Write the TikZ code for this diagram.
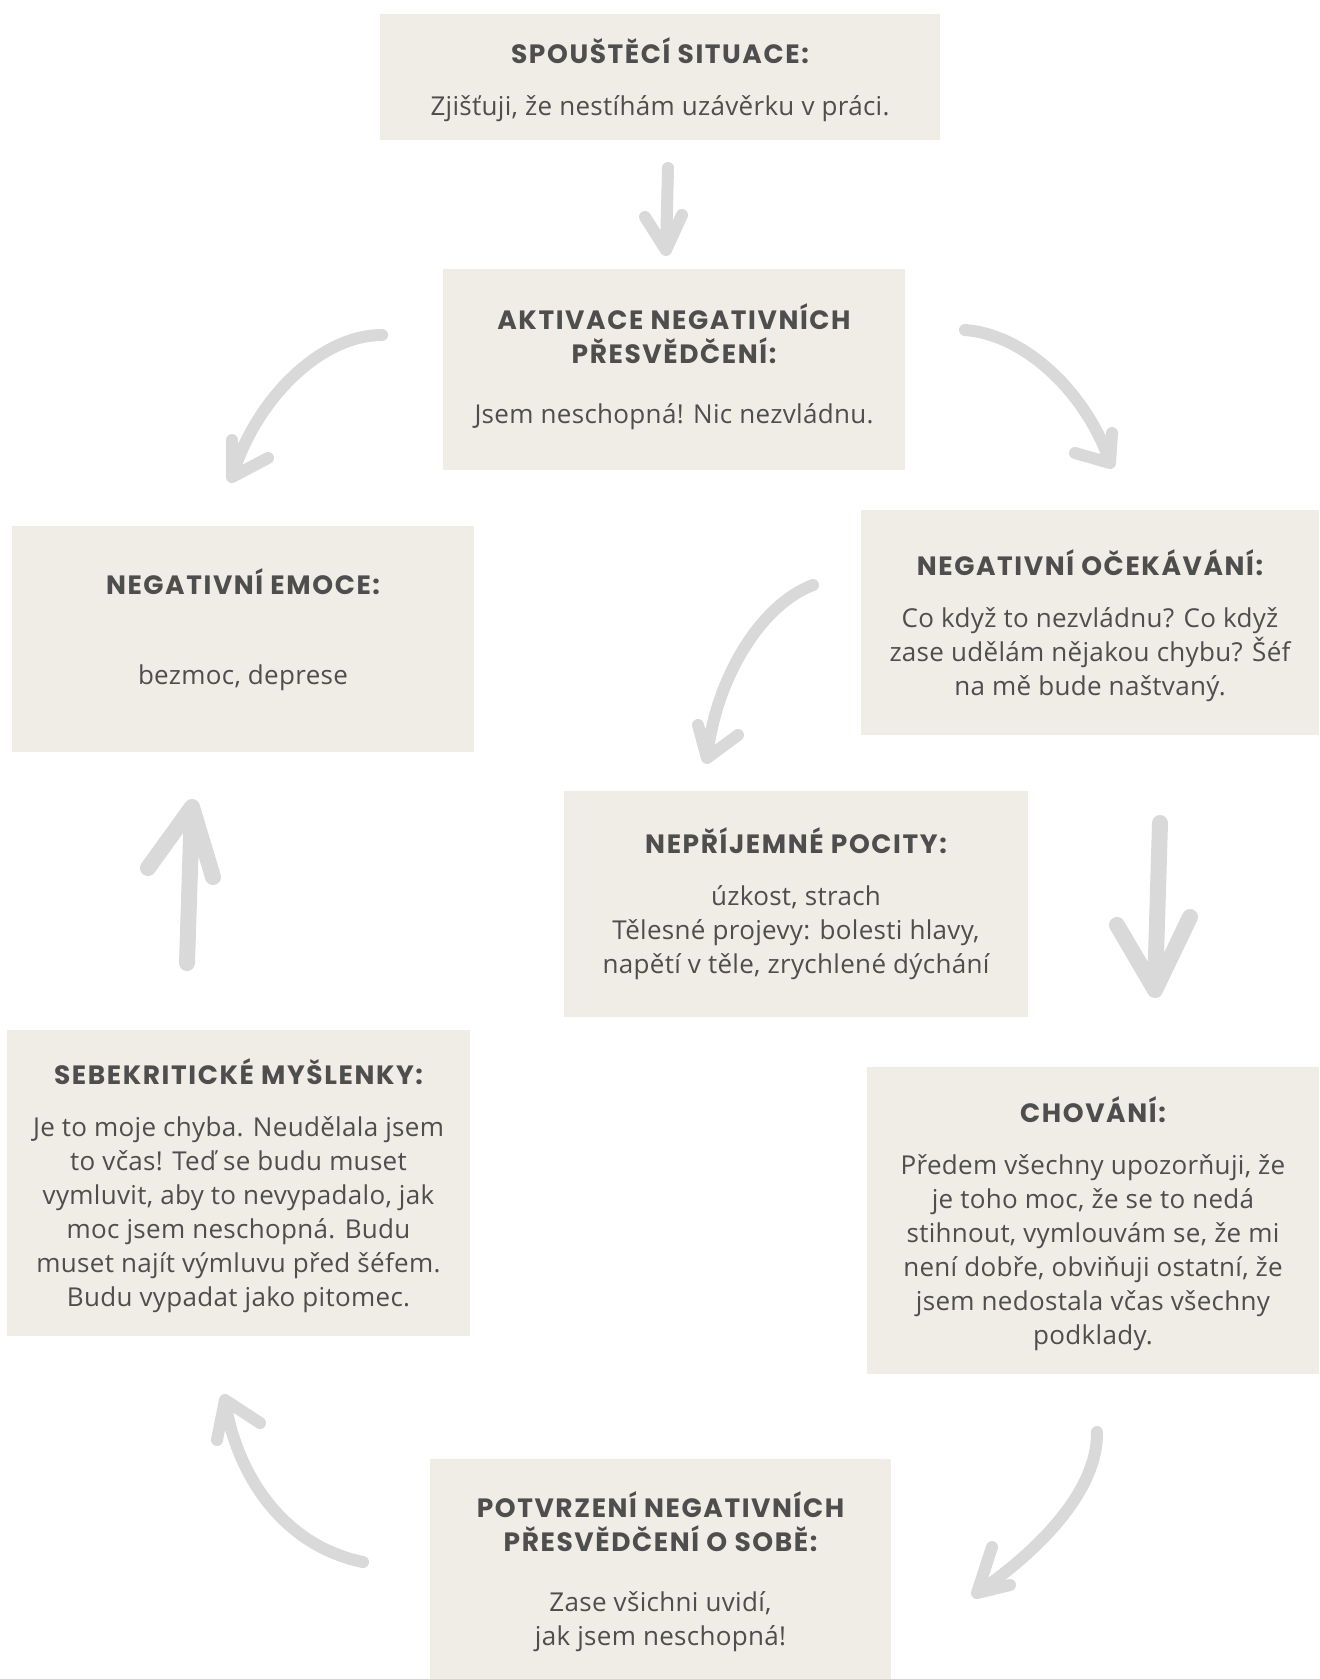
\documentclass[tikz,border=0pt]{standalone}
\usepackage{fontspec}
\setmainfont{Open Sans}[LetterSpace=1.2]
\newfontfamily\headfamily{Poppins}[LetterSpace=6]
\usepackage{tikz}
\definecolor{BoxBeige}{HTML}{F0ECE6}
\definecolor{InkGray}{HTML}{4E4E4E}
\definecolor{PenGray}{HTML}{D9D9D9}
\newcommand{\boxhead}[1]{{\headfamily\bfseries\fontsize{26.5}{34}\selectfont #1}}

\begin{document}
\begin{tikzpicture}[x=1pt,y=-1pt,
    box/.style args={#1 by #2}{fill=BoxBeige,text=InkGray,align=center,
            inner sep=0pt,outer sep=0pt,
            minimum width=#1pt,minimum height=#2pt,
            font=\fontsize{26}{34}\selectfont},
    penline/.style={draw=PenGray,line width=#1,line cap=round,line join=round},
    penline/.default=12pt]
    \useasboundingbox (0,0) rectangle (1320,1679);
    % boxes
    \node[box=560 by 126,text depth=0pt] (trigger) at (660,77)
       {\boxhead{SPOUŠTĚCÍ SITUACE:}\\[18pt]
        Zjišťuji, že nestíhám uzávěrku v práci.};
    \node[box=462 by 201,text depth=11pt] (belief) at (674,369.5)
       {\boxhead{AKTIVACE NEGATIVNÍCH}\\\boxhead{PŘESVĚDČENÍ:}\\[26pt]
        Jsem neschopná! Nic nezvládnu.};
    \node[box=462 by 226,text depth=24pt] (emotion) at (243,639)
       {\boxhead{NEGATIVNÍ EMOCE:}\\[56pt]
        bezmoc, deprese};
    \node[box=458 by 225,text depth=0pt] (expect) at (1090,622.5)
       {\boxhead{NEGATIVNÍ OČEKÁVÁNÍ:}\\[18pt]
        Co když to nezvládnu? Co když\\
        zase udělám nějakou chybu? Šéf\\
        na mě bude naštvaný.};
    \node[box=464 by 226] (feeling) at (796,904)
       {\boxhead{NEPŘÍJEMNÉ POCITY:}\\[18pt]
        úzkost, strach\\
        Tělesné projevy: bolesti hlavy,\\
        napětí v těle, zrychlené dýchání};
    \node[box=463 by 306,text depth=0pt] (selfcrit) at (238.5,1183)
       {\boxhead{SEBEKRITICKÉ MYŠLENKY:}\\[18pt]
        Je to moje chyba. Neudělala jsem\\
        to včas! Teď se budu muset\\
        vymluvit, aby to nevypadalo, jak\\
        moc jsem neschopná. Budu\\
        muset najít výmluvu před šéfem.\\
        Budu vypadat jako pitomec.};
    \node[box=452 by 307,text depth=-2pt] (behave) at (1093,1220.5)
       {\boxhead{CHOVÁNÍ:}\\[18pt]
        Předem všechny upozorňuji, že\\
        je toho moc, že se to nedá\\
        stihnout, vymlouvám se, že mi\\
        není dobře, obviňuji ostatní, že\\
        jsem nedostala včas všechny\\
        podklady.};
    \node[box=461 by 220,text depth=-8pt] (confirm) at (660.5,1569)
       {\boxhead{POTVRZENÍ NEGATIVNÍCH}\\\boxhead{PŘESVĚDČENÍ O SOBĚ:}\\[26pt]
        Zase všichni uvidí,\\
        jak jsem neschopná!};
    % sketched arrows
    \coordinate (a1s) at (668,168);  \coordinate (a1t) at (666,250);
    \coordinate (a2s) at (382,335);  \coordinate (a2t) at (232,477);
    \coordinate (a3s) at (965,330);  \coordinate (a3t) at (1110,463);
    \coordinate (a4s) at (813,585);  \coordinate (a4t) at (707,758);
    \coordinate (a5s) at (1160,823); \coordinate (a5t) at (1155,990);
    \coordinate (a6s) at (187,963);  \coordinate (a6t) at (192,807);
    \coordinate (a7s) at (1097,1432);\coordinate (a7t) at (977,1593);
    \coordinate (a8s) at (363,1562); \coordinate (a8t) at (225,1400);
    \draw[penline] (a1s) -- (a1t) (645,217) -- (a1t) -- (682,215);
    \draw[penline] (a2s) .. controls (320,335) and (255,400) .. (a2t)
        (232,440) -- (a2t) -- (268,458);
    \draw[penline] (a3s) .. controls (1030,335) and (1090,400) .. (a3t)
        (1112,433) -- (a3t) -- (1075,453);
    \draw[penline] (a4s) .. controls (760,605) and (715,680) .. (a4t)
        (698,725) -- (a4t) -- (738,735);
    \draw[penline=16pt] (a5s) -- (a5t) (1117,925) -- (a5t) -- (1190,917);
    \draw[penline=16pt] (a6s) -- (a6t) (148,868) -- (a6t) -- (213,877);
    \draw[penline] (a7s) .. controls (1098,1490) and (1040,1550) .. (a7t)
        (992,1547) -- (a7t) -- (1010,1585);
    \draw[penline] (a8s) .. controls (280,1545) and (235,1470) .. (a8t)
        (217,1440) -- (a8t) -- (260,1423);
\end{tikzpicture}
\end{document}
